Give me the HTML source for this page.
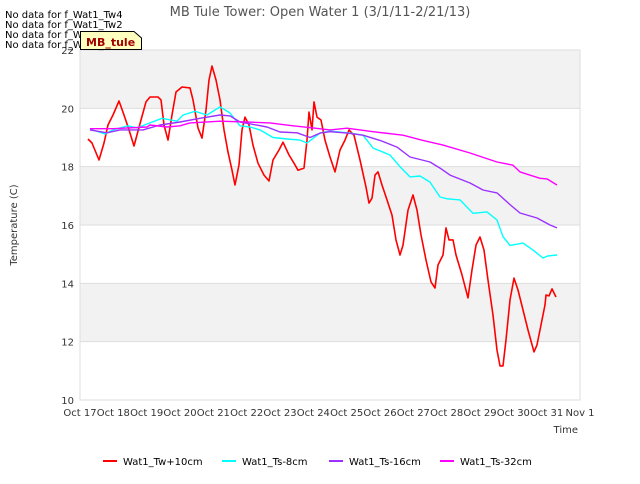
<!DOCTYPE html>
<html><head><meta charset="utf-8"><style>
body{margin:0;background:#fff;font-family:"DejaVu Sans",sans-serif}
svg text{font-family:"DejaVu Sans","Liberation Sans",sans-serif}
</style></head><body>
<svg id="c" width="640" height="480" viewBox="0 0 640 480">
<rect x="0" y="0" width="640" height="480" fill="#fff"/>
<g id="bands"></g>
<g id="grid"></g>
<rect x="80" y="50" width="500" height="350" fill="none" stroke="#ddd"/>
<g id="series"></g>
<g id="axes"></g>
<text x="320" y="16" text-anchor="middle" font-size="13" fill="#555">MB Tule Tower: Open Water 1 (3/1/11-2/21/13)</text>
<text x="17" y="225" text-anchor="middle" font-size="10" fill="#333" transform="rotate(-90 17 225)">Temperature (C)</text>
<text x="578" y="433" text-anchor="end" font-size="10" fill="#333">Time</text>
<g font-size="10" fill="#000">
<text x="5" y="18">No data for f_Wat1_Tw4</text>
<text x="5" y="28">No data for f_Wat1_Tw2</text>
<text x="5" y="38">No data for f_Wat1_Ts2</text>
<text x="5" y="48">No data for f_Wat1_Ts4</text>
</g>
<g>
<path d="M80.5,31.5 H134 L141.5,38 V49.5 H80.5 Z" fill="#ffffc0" stroke="#000"/>
<text x="86" y="46" font-size="11" font-weight="bold" fill="#a00000">MB_tule</text>
</g>
<g id="legend"></g>
</svg>
<script>
const yTicks=[10,12,14,16,18,20,22];
const xTickLabels=["Oct 17","Oct 18","Oct 19","Oct 20","Oct 21","Oct 22","Oct 23","Oct 24","Oct 25","Oct 26","Oct 27","Oct 28","Oct 29","Oct 30","Oct 31","Nov 1"];
const seriesNames=["Wat1_Tw+10cm","Wat1_Ts-8cm","Wat1_Ts-16cm","Wat1_Ts-32cm"];
const seriesColors=["#ff0000","#00ffff","#9b30ff","#ff00ff"];
// [day since Oct 17, temperature]
const tw10=[[0.24,18.95],[0.36,18.81],[0.57,18.23],[0.72,18.81],[0.84,19.43],[0.99,19.77],[1.17,20.25],[1.32,19.77],[1.47,19.26],[1.62,18.71],[1.83,19.6],[1.98,20.22],[2.1,20.39],[2.34,20.39],[2.43,20.29],[2.52,19.43],[2.64,18.91],[2.76,19.77],[2.88,20.56],[3.06,20.73],[3.3,20.7],[3.39,20.29],[3.54,19.33],[3.66,18.98],[3.78,19.94],[3.87,20.97],[3.96,21.45],[4.08,20.97],[4.2,20.29],[4.32,19.26],[4.44,18.5],[4.56,17.88],[4.65,17.37],[4.77,18.06],[4.86,19.26],[4.95,19.7],[5.07,19.43],[5.19,18.74],[5.34,18.12],[5.52,17.71],[5.67,17.51],[5.79,18.23],[5.97,18.57],[6.09,18.84],[6.27,18.4],[6.42,18.12],[6.54,17.88],[6.72,17.95],[6.81,18.91],[6.87,19.87],[6.96,19.26],[7.02,20.22],[7.11,19.7],[7.23,19.6],[7.35,18.91],[7.5,18.33],[7.65,17.82],[7.8,18.57],[7.95,18.91],[8.07,19.26],[8.22,19.08],[8.4,18.23],[8.58,17.3],[8.67,16.75],[8.76,16.92],[8.85,17.71],[8.94,17.82],[9.06,17.37],[9.21,16.86],[9.36,16.34],[9.48,15.49],[9.6,14.97],[9.69,15.31],[9.84,16.51],[9.99,17.03],[10.11,16.51],[10.23,15.66],[10.38,14.8],[10.53,14.05],[10.65,13.84],[10.74,14.63],[10.89,14.97],[10.98,15.9],[11.07,15.49],[11.19,15.49],[11.28,14.97],[11.46,14.29],[11.64,13.5],[11.76,14.46],[11.88,15.31],[12.0,15.59],[12.12,15.14],[12.24,14.11],[12.39,12.91],[12.51,11.71],[12.6,11.17],[12.69,11.17],[12.78,12.06],[12.9,13.43],[13.02,14.18],[13.14,13.77],[13.29,13.09],[13.44,12.4],[13.62,11.65],[13.71,11.89],[13.83,12.57],[13.95,13.26],[13.98,13.6],[14.07,13.57],[14.16,13.81],[14.25,13.6],[14.28,13.53]];
const ts8=[[0.3,19.29],[0.75,19.12],[0.99,19.26],[1.44,19.4],[1.71,19.33],[2.1,19.5],[2.46,19.66],[2.91,19.56],[3.09,19.77],[3.45,19.9],[3.81,19.77],[4.2,20.05],[4.5,19.84],[4.8,19.4],[5.1,19.36],[5.4,19.26],[5.79,19.0],[6.21,18.95],[6.6,18.91],[6.81,18.81],[7.2,19.15],[7.5,19.22],[8.1,19.15],[8.49,19.08],[8.79,18.64],[9.3,18.4],[9.6,18.0],[9.9,17.65],[10.2,17.68],[10.5,17.47],[10.8,16.96],[11.01,16.9],[11.4,16.86],[11.79,16.4],[12.21,16.45],[12.51,16.17],[12.69,15.6],[12.9,15.3],[13.29,15.38],[13.59,15.14],[13.89,14.87],[14.04,14.94],[14.31,14.97]];
const ts16=[[0.3,19.26],[0.81,19.16],[1.2,19.26],[1.89,19.26],[2.4,19.43],[3.0,19.53],[3.6,19.66],[4.2,19.77],[4.5,19.74],[4.8,19.53],[5.61,19.36],[6.0,19.19],[6.51,19.16],[6.9,19.0],[7.2,19.15],[7.5,19.2],[8.01,19.15],[8.49,19.08],[9.0,18.9],[9.51,18.67],[9.9,18.33],[10.5,18.16],[10.8,17.95],[11.1,17.71],[11.7,17.44],[12.09,17.2],[12.51,17.1],[12.9,16.7],[13.2,16.41],[13.71,16.24],[14.1,16.0],[14.31,15.9]];
const ts32=[[0.3,19.3],[0.99,19.3],[2.01,19.36],[2.1,19.43],[2.61,19.36],[3.0,19.4],[3.3,19.5],[4.2,19.56],[5.01,19.53],[5.7,19.5],[6.39,19.4],[6.99,19.33],[7.5,19.26],[8.01,19.32],[8.79,19.2],[9.69,19.08],[10.29,18.9],[10.89,18.74],[11.7,18.47],[12.51,18.16],[12.99,18.05],[13.2,17.82],[13.8,17.6],[14.01,17.58],[14.31,17.37]];
const allSeries=[tw10,ts8,ts16,ts32];

const NS="http://www.w3.org/2000/svg";
const X0=80,X1=580,Y0=400,Y1=50,DMAX=15,VMIN=10,VMAX=22;
function xs(d){return X0+(X1-X0)*d/DMAX;}
function ys(v){return Y0-(Y0-Y1)*(v-VMIN)/(VMAX-VMIN);}
function mk(tag,attrs,parent){const e=document.createElementNS(NS,tag);for(const k in attrs)e.setAttribute(k,attrs[k]);parent.appendChild(e);return e;}
const bands=document.getElementById('bands'),grid=document.getElementById('grid'),axes=document.getElementById('axes'),ser=document.getElementById('series'),leg=document.getElementById('legend');
for(let i=0;i<yTicks.length-1;i++){
  if(i%2===1){const r=mk('rect',{x:X0,y:ys(yTicks[i+1]),width:X1-X0,height:ys(yTicks[i])-ys(yTicks[i+1]),fill:'#f2f2f2'},bands);
  
  }
}
yTicks.forEach(t=>{
  const l=mk('line',{x1:X0,x2:X1,y1:ys(t),y2:ys(t),stroke:'#ddd'},grid);
  
  
  const tx=mk('text',{x:X0-6,y:ys(t)+4,'text-anchor':'end','font-size':'10',fill:'#333'},axes);
  tx.textContent=t;
  
  
});
xTickLabels.forEach((lab,i)=>{
  const tx=mk('text',{x:xs(i),y:416,'text-anchor':'middle','font-size':'10',fill:'#333'},axes);
  tx.textContent=lab;
  
  
});
allSeries.forEach((data,si)=>{
  const d=data.map((p,i)=>(i?'L':'M')+xs(p[0]).toFixed(1)+','+ys(p[1]).toFixed(1)).join(' ');
  const p=mk('path',{d:d,fill:'none',stroke:seriesColors[si],'stroke-width':si===0?1.6:1.4,'stroke-linejoin':'round'},ser);
  
  
});
const legX=[103,222,329,440];
seriesNames.forEach((n,i)=>{
  const g=mk('g',{},leg);
  
  
  mk('line',{x1:legX[i],x2:legX[i]+14,y1:461,y2:461,stroke:seriesColors[i],'stroke-width':2},g);
  const t=mk('text',{x:legX[i]+20,y:465,'font-size':'10',fill:'#000'},g);
  t.textContent=n;
});
</script>
</body></html>
